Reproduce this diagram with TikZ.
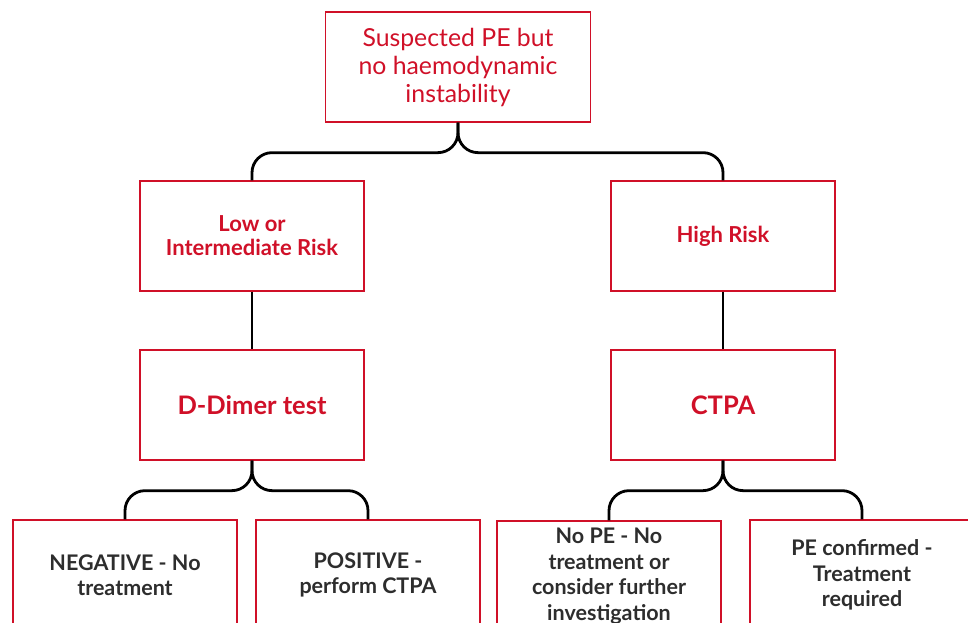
\documentclass[tikz,border=0pt]{standalone}
\usepackage{fontspec}
\setmainfont{Lato}
\usetikzlibrary{positioning}
\definecolor{pered}{RGB}{208,16,40}
\definecolor{txtgray}{RGB}{45,45,45}

\begin{document}
\begin{tikzpicture}[x=1pt,y=-1pt,
  box/.style={draw=pered, line width=1.3pt, minimum width=224pt, minimum height=110pt, align=center, inner sep=0pt},
  start/.style={box, minimum width=265pt, text=pered, font=\fontsize{24.8}{28}\selectfont},
  risk/.style={box, text=pered, font=\bfseries\fontsize{22}{24}\selectfont},
  test/.style={box, text=pered, font=\bfseries\fontsize{25.5}{28}\selectfont},
  result/.style={box, text=txtgray, font=\bfseries\fontsize{21.5}{25.5}\selectfont},
  link/.style={line width=2.8pt, rounded corners=20pt}]
\useasboundingbox (0,0) rectangle (968,623);
\clip (0,0) rectangle (968,623);
\node[start] (susp) at (458,67) {Suspected PE but\\no haemodynamic\\instability};
\node[risk] (low) at (252,236) {Low or\\Intermediate Risk};
\node[risk] (high) at (723,236) {High Risk};
\node[test] (ddimer) at (252,405) {D-Dimer test};
\node[test] (ctpa) at (723,405) {CTPA};
\node[result] (neg) at (125,575) {NEGATIVE - No\\treatment};
\node[result] (pos) at (368,575) {POSITIVE -\\perform CTPA};
\node[result] (nope) at (609,576) {No PE - No\\treatment or\\consider further\\investigation};
\node[result] (conf) at (862,575) {PE confirmed -\\Treatment\\required};
% braces
\draw[link] (susp.south) -- ++(0,30) -| (low.north);
\draw[link] (susp.south) -- ++(0,30) -| (high.north);
\draw[line width=2.8pt] (low) -- (ddimer);
\draw[line width=2.8pt] (high) -- (ctpa);
\draw[link] (ddimer.south) -- ++(0,30) -| (neg.north);
\draw[link] (ddimer.south) -- ++(0,30) -| (pos.north);
\draw[link] (ctpa.south) -- ++(0,30) -| (nope.north);
\draw[link] (ctpa.south) -- ++(0,30) -| (conf.north);
\end{tikzpicture}
\end{document}
